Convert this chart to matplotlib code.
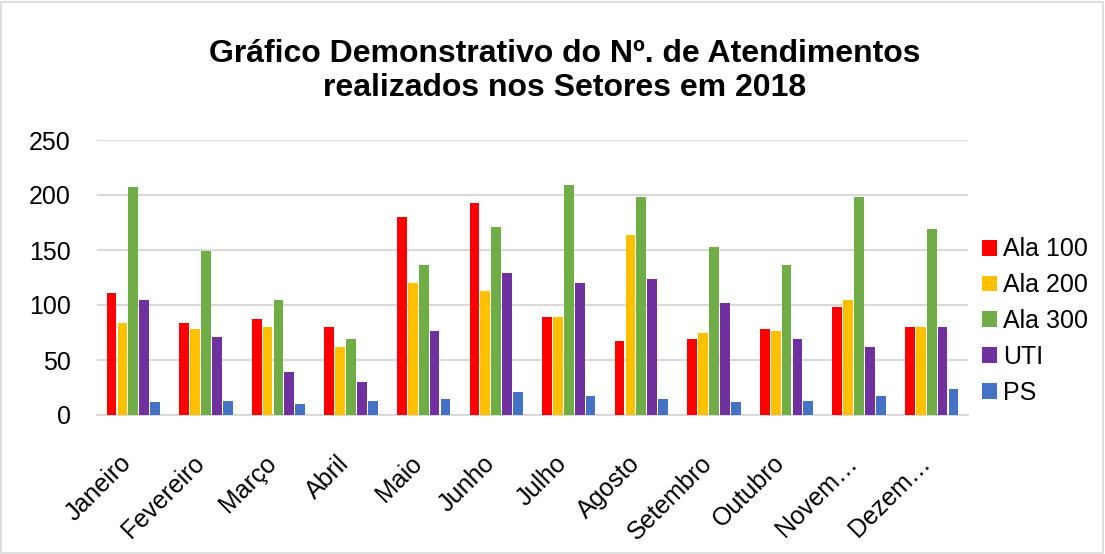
import matplotlib
matplotlib.use("Agg")
import matplotlib.pyplot as plt
import numpy as np
from matplotlib.patches import Rectangle
from matplotlib.transforms import ScaledTranslation

months = ["Janeiro", "Fevereiro", "Março", "Abril", "Maio", "Junho", "Julho",
          "Agosto", "Setembro", "Outubro", "Novem…", "Dezem…"]
ala100 = [111, 84, 87, 80, 180, 193, 89, 67, 69, 78, 98, 80]
ala200 = [84, 78, 80, 62, 120, 113, 89, 164, 75, 76, 105, 80]
ala300 = [207, 149, 105, 69, 136, 171, 209, 198, 153, 136, 198, 169]
uti = [105, 71, 39, 30, 76, 129, 120, 124, 102, 69, 62, 80]
ps = [12, 13, 10, 13, 15, 21, 17, 15, 12, 13, 17, 24]

series_names = ["Ala 100", "Ala 200", "Ala 300", "UTI", "PS"]
series = [ala100, ala200, ala300, uti, ps]
colors = ["#FF0000", "#FFC000", "#70AD47", "#7030A0", "#4472C4"]
yticks = [0, 50, 100, 150, 200, 250]

plt.rcParams['font.family'] = ['Liberation Sans', 'DejaVu Sans']

W, H = 1105, 554
fig = plt.figure(figsize=(W / 100, H / 100), dpi=100)
ax = fig.add_axes([97 / W, 1 - 415 / H, (968 - 97) / W, (415 - 140) / H])

x = np.arange(len(months))
slot = 0.15
bw = 0.135
for i, (name, vals, c) in enumerate(zip(series_names, series, colors)):
    ax.bar(x + (i - 2) * slot, vals, width=bw, color=c, label=name, zorder=3)

ax.set_xlim(-0.5, len(months) - 0.5)
ax.set_ylim(0, 250)
ax.set_yticks(yticks)
ax.set_yticklabels([str(v) for v in yticks], fontsize=18)
ax.grid(axis='y', color='#D9D9D9', linewidth=1.5, zorder=0)
ax.set_axisbelow(True)
for s in ['top', 'right', 'left']:
    ax.spines[s].set_visible(False)
ax.spines['bottom'].set_color('#D9D9D9')
ax.spines['bottom'].set_linewidth(1.5)
ax.tick_params(axis='y', length=0, pad=19)
ax.tick_params(axis='x', length=0, pad=10)
ax.set_xticks(x)
ax.set_xticklabels(months, rotation=45, ha='right', rotation_mode='anchor', fontsize=18)
offset = ScaledTranslation(-0.14, -0.22, fig.dpi_scale_trans)
for lab in ax.get_xticklabels():
    lab.set_transform(lab.get_transform() + offset)

fig.text(565 / W, 1 - 71 / H, "Gráfico Demonstrativo do Nº. de Atendimentos\nrealizados nos Setores em 2018",
         ha='center', va='center', fontsize=23, fontweight='bold', linespacing=1.15)

leg = fig.legend(loc='center left', bbox_to_anchor=(982 / W, 1 - 321 / H), frameon=False,
                 fontsize=18, handlelength=0.6, handleheight=0.6, handletextpad=0.25,
                 labelspacing=0.47, borderaxespad=0, borderpad=0)

fig.add_artist(Rectangle((1 / W, 1 / H), (W - 3) / W, (H - 3) / H, transform=fig.transFigure,
                         fill=False, edgecolor='#D9D9D9', linewidth=1.2))

fig.savefig("out.png", dpi=100)
